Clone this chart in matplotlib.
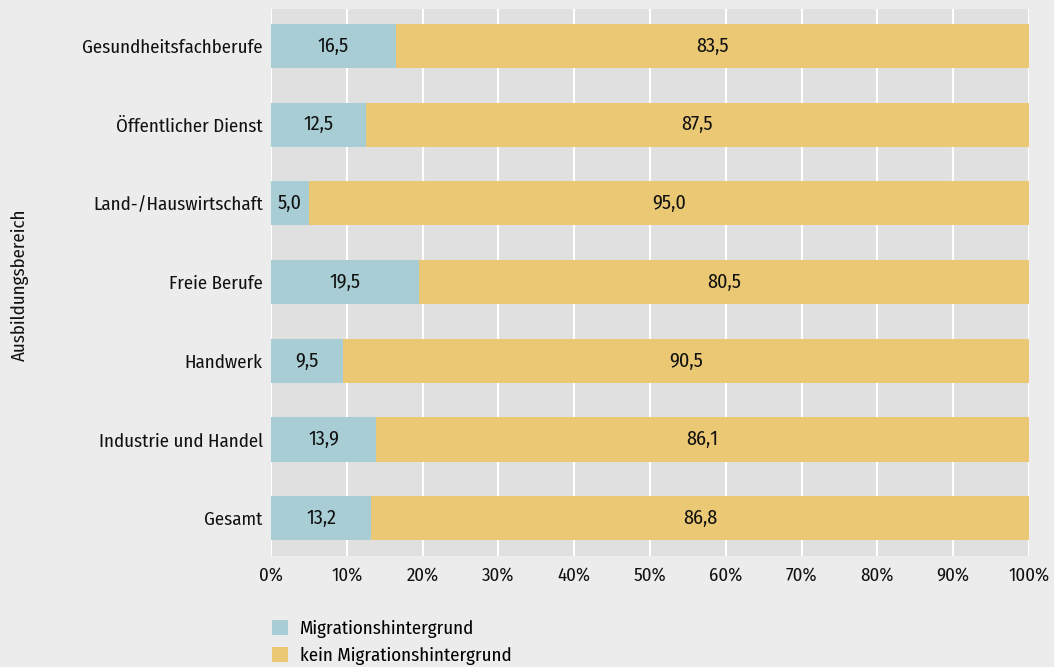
import matplotlib
matplotlib.use("Agg")
import matplotlib.pyplot as plt
from matplotlib.patches import Patch

plt.rcParams['font.family'] = ['Fira Sans Condensed', 'DejaVu Sans']

categories = ["Gesundheitsfachberufe", "Öffentlicher Dienst", "Land-/Hauswirtschaft",
              "Freie Berufe", "Handwerk", "Industrie und Handel", "Gesamt"]
migration = [16.5, 12.5, 5.0, 19.5, 9.5, 13.9, 13.2]
kein_migration = [83.5, 87.5, 95.0, 80.5, 90.5, 86.1, 86.8]
series_names = ["Migrationshintergrund", "kein Migrationshintergrund"]
xticks = [0, 10, 20, 30, 40, 50, 60, 70, 80, 90, 100]

c_blue = "#a8cdd4"
c_yellow = "#ebc874"
fs = 13.6

fig = plt.figure(figsize=(10.54, 6.67), dpi=100, facecolor="#ececec")
ax = fig.add_axes([271/1054, 1-556/667, (1029-271)/1054, (556-9)/667])
ax.set_facecolor("#e0e0e0")

y = list(range(len(categories)))[::-1]
h = 0.56
ax.barh(y, migration, height=h, color=c_blue, zorder=3)
ax.barh(y, kein_migration, left=migration, height=h, color=c_yellow, zorder=3)

fmt = lambda v: f"{v:.1f}".replace(".", ",")
for yi, m, k in zip(y, migration, kein_migration):
    ax.text(m/2, yi, fmt(m), ha="center", va="center", fontsize=14.5, color="#111111", zorder=4)
    ax.text(m + k/2, yi, fmt(k), ha="center", va="center", fontsize=14.5, color="#111111", zorder=4)

ax.set_xlim(0, 100)
ax.set_ylim(-0.48, 6.47)
ax.set_xticks(xticks)
ax.set_xticklabels([f"{t}%" for t in xticks], fontsize=fs, color="#111111")
ax.set_yticks(y)
ax.set_yticklabels(categories, fontsize=fs, color="#111111")
ax.tick_params(length=0, pad=6)
ax.tick_params(axis="x", pad=8)
ax.grid(axis="x", color="white", linewidth=1.5, zorder=1)
ax.set_axisbelow(True)
for s in ax.spines.values():
    s.set_visible(False)

fig.text(20/1054, 1-285/667, "Ausbildungsbereich", rotation=90, ha="center", va="center",
         fontsize=fs, color="#111111")

handles = [Patch(facecolor=c_blue), Patch(facecolor=c_yellow)]
fig.legend(handles, series_names, loc="upper left", bbox_to_anchor=(272/1054, 1-620/667),
           frameon=False, fontsize=fs, handlelength=0.85, handleheight=0.85,
           handletextpad=0.65, labelspacing=0.45, borderaxespad=0, borderpad=0)

fig.savefig("out.png", dpi=100, facecolor=fig.get_facecolor())
